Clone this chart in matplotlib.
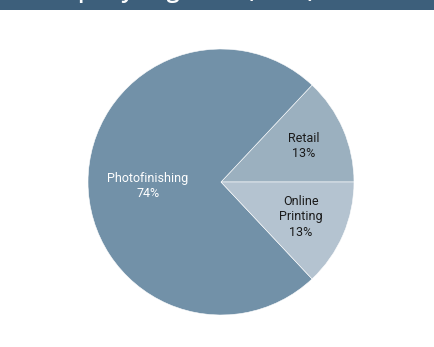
import matplotlib.pyplot as plt
from matplotlib.patches import Rectangle

segments = ["Retail", "Photofinishing", "Online\nPrinting"]
shares = [13, 74, 13]
colors = ["#9bb0bf", "#7291a8", "#b4c3d0"]
label_colors = ["#1a1a1a", "white", "#1a1a1a"]
label_pos = [(0.62, 0.27), (-0.55, -0.03), (0.60, -0.26)]

title = "Company Segment (2012)"

fig = plt.figure(figsize=(4.34, 3.47), dpi=100)

# header bar, mostly cut off at the top
fig.patches.append(Rectangle((0, 1 - 10 / 347), 1, 10 / 347, transform=fig.transFigure,
                             facecolor="#3d5f7b", edgecolor="none"))
fig.text(26 / 434, 1 + 3 / 347, title, color="white", fontsize=17,
         family=["Open Sans", "DejaVu Sans"], weight="semibold", va="baseline", ha="left")

ax = fig.add_axes([221 / 434 - 133 / 434, 1 - 182 / 347 - 133 / 347, 266 / 434, 266 / 347])
wedges, texts = ax.pie(shares, colors=colors, startangle=0, counterclock=True,
                       wedgeprops=dict(edgecolor="white", linewidth=0.4))
for i, w in enumerate(wedges):
    ax.text(label_pos[i][0], label_pos[i][1], "%s\n%d%%" % (segments[i], shares[i]),
            ha="center", va="center", fontsize=9, color=label_colors[i],
            family=["Roboto", "DejaVu Sans"], linespacing=1.25)
ax.set_xlim(-1, 1)
ax.set_ylim(-1, 1)
ax.set_aspect("auto")

fig.savefig("out.png", dpi=100)
